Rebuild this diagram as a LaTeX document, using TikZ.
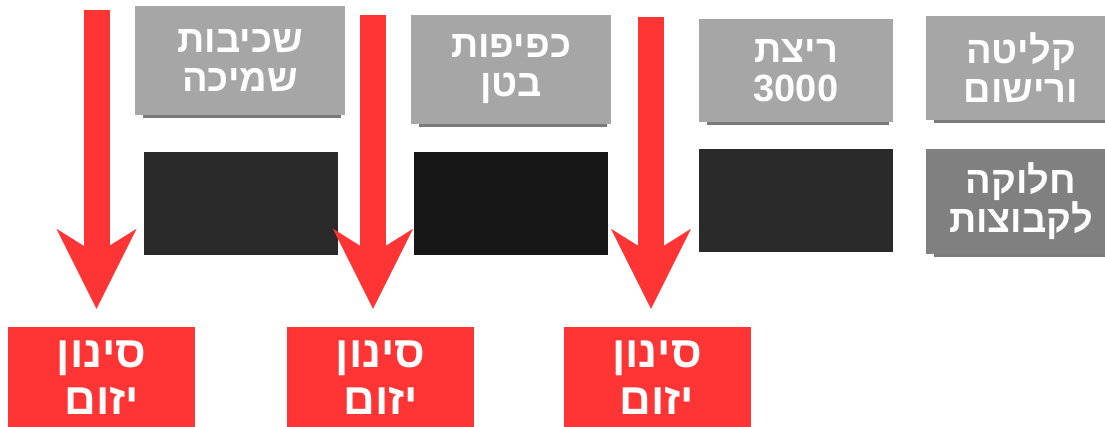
\documentclass[tikz,border=0pt]{standalone}
\usepackage{fontspec}
\usepackage{tikz}
\usetikzlibrary{arrows.meta,calc}
\TeXXeTstate=1
\newfontfamily\hebfont[Script=Hebrew]{Liberation Sans}
\definecolor{boxgray}{HTML}{A6A6A6}
\definecolor{shadegray}{HTML}{7A7A7A}
\definecolor{darkbox}{HTML}{2A2A2A}
\definecolor{darkerbox}{HTML}{171717}
\definecolor{midgray}{HTML}{808080}
\definecolor{alertred}{HTML}{FF3535}

\begin{document}
\begin{tikzpicture}[x=1pt,y=-1pt,
	tile/.style={inner sep=0pt,text=white,align=center,font=\hebfont\bfseries\fontsize{38}{39}\selectfont},
	topbox/.style={tile,fill=boxgray},
	blankbox/.style={inner sep=0pt,minimum width=194pt,minimum height=103pt},
	redbox/.style={tile,fill=alertred,minimum width=187pt,minimum height=102pt,font=\hebfont\bfseries\fontsize{44}{47}\selectfont},
	bigarrow/.style={alertred,line width=26pt,shorten >=18pt,-{Stealth[length=80pt,width=80pt,inset=25pt,line width=0pt]}}]
	\useasboundingbox (0,0) rectangle (1105,427);

	\node[topbox,minimum width=210pt,minimum height=109pt] (pushups) at (240,60.5) {\beginR שכיבות\endR\\\beginR שמיכה\endR};
	\node[topbox,minimum width=200pt,minimum height=109pt] (situps) at (511,69.5) {\beginR כפיפות\endR\\\beginR בטן\endR};
	\node[topbox,minimum width=194pt,minimum height=103pt] (run) at (796,70.5) {\beginR ריצת\endR\\3000};
	\node[topbox,minimum width=190pt,minimum height=104pt] (intake) at (1021,68) {\beginR קליטה\endR\\\beginR ורישום\endR};
	\foreach \n in {pushups,situps,run,intake}
	{ \fill[shadegray] ($(\n.south west)+(8,0)$) rectangle ($(\n.south east)+(-4,3)$);
	}

	\node[blankbox,fill=darkbox] (pushupsres) at (241,203.5) {};
	\node[blankbox,fill=darkerbox] (situpsres) at (511,203.5) {};
	\node[blankbox,fill=darkbox] (runres) at (796,201) {};
	\node[tile,fill=midgray,minimum width=190pt,minimum height=105pt] (groups) at (1021,201.5) {\beginR חלוקה\endR\\\beginR לקבוצות\endR};
	\fill[shadegray] ($(groups.south west)+(8,0)$) rectangle ($(groups.south east)+(-4,3)$);

	\node[redbox] (cut1) at (101.5,378) {\beginR סינון\endR\\\beginR יזום\endR};
	\node[redbox] (cut2) at (380.5,378) {\beginR סינון\endR\\\beginR יזום\endR};
	\node[redbox] (cut3) at (657,378) {\beginR סינון\endR\\\beginR יזום\endR};

	\coordinate (top1) at (96.5,10);
	\coordinate (top2) at (373,15);
	\coordinate (top3) at (651,17);
	\foreach \i in {1,2,3}
	{ \draw[bigarrow] (top\i) -- (top\i |- cut\i.north);
	}
\end{tikzpicture}
\end{document}
